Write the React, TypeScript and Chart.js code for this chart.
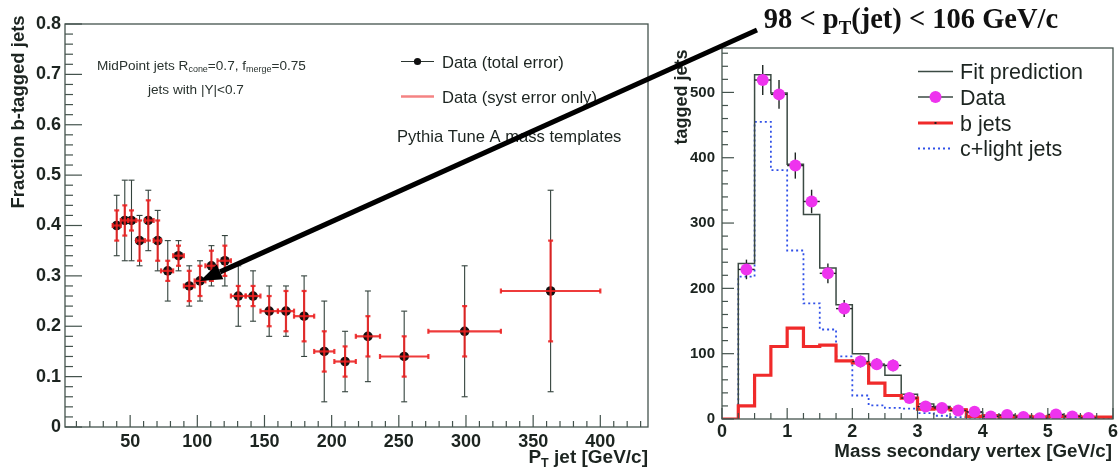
import React, { useEffect, useRef } from 'react';
import { Chart, registerables } from 'chart.js';
Chart.register(...registerables);

// ---------- Left panel: fraction of b-tagged jets vs pT ----------
const ptCenters = [40, 46, 51, 57, 63.5, 70.5, 78, 86, 94, 102, 110.5, 120.5, 130.5, 141.5, 153.5, 166, 179.5, 194.5, 210, 227, 254, 299, 363];
const ptLow = [37, 43, 48.5, 54.5, 61, 67.5, 73, 82, 90, 98, 106, 115, 125, 136, 147, 160, 172, 187, 202, 218, 236, 272, 326];
const ptHigh = [43, 48.5, 54.5, 61, 67.5, 73, 82, 90, 98, 106, 115, 125, 136, 147, 160, 172, 187, 202, 218, 236, 272, 326, 400];
const fraction = [0.40, 0.41, 0.41, 0.37, 0.41, 0.37, 0.31, 0.34, 0.28, 0.29, 0.32, 0.33, 0.26, 0.26, 0.23, 0.23, 0.22, 0.15, 0.13, 0.18, 0.14, 0.19, 0.27];
const totalHigh = [0.46, 0.49, 0.49, 0.42, 0.47, 0.43, 0.37, 0.37, 0.32, 0.33, 0.36, 0.38, 0.32, 0.31, 0.28, 0.28, 0.30, 0.25, 0.19, 0.27, 0.23, 0.32, 0.47];
const totalLow = [0.34, 0.33, 0.33, 0.32, 0.35, 0.31, 0.25, 0.31, 0.24, 0.25, 0.28, 0.28, 0.20, 0.21, 0.18, 0.18, 0.14, 0.05, 0.07, 0.09, 0.05, 0.06, 0.07];
const systHigh = [0.43, 0.44, 0.43, 0.41, 0.45, 0.41, 0.33, 0.36, 0.31, 0.32, 0.35, 0.36, 0.28, 0.28, 0.26, 0.27, 0.27, 0.19, 0.16, 0.22, 0.18, 0.24, 0.37];
const systLow = [0.37, 0.38, 0.39, 0.33, 0.37, 0.33, 0.29, 0.32, 0.25, 0.26, 0.29, 0.30, 0.24, 0.24, 0.20, 0.19, 0.17, 0.11, 0.10, 0.14, 0.10, 0.14, 0.17];
const leftXTicks = [50, 100, 150, 200, 250, 300, 350, 400];
const leftYTicks = [0, 0.1, 0.2, 0.3, 0.4, 0.5, 0.6, 0.7, 0.8];
const leftYTickLabels = ['0', '0.1', '0.2', '0.3', '0.4', '0.5', '0.6', '0.7', '0.8'];

// ---------- Right panel: mass of secondary vertex ----------
const massEdges = [0, 0.25, 0.5, 0.75, 1, 1.25, 1.5, 1.75, 2, 2.25, 2.5, 2.75, 3, 3.25, 3.5, 3.75, 4, 4.25, 4.5, 4.75, 5, 5.25, 5.5, 5.75, 6];
const fitPrediction = [0, 238, 527, 499, 390, 313, 231, 175, 100, 82, 67, 38, 23, 19, 15, 10, 6, 5, 4, 4, 4, 3, 3, 3];
const bJets = [0, 20, 67, 111, 139, 111, 113, 89, 86, 55, 36, 32, 15, 16, 14, 4, 5, 3, 4, 3, 4, 4, 3, 3];
const cLightJets = [0, 218, 455, 381, 258, 177, 137, 96, 36, 21, 17, 16, 9, 5, 3, 2, 1, 1, 1, 1, 1, 1, 0, 0];
const dataCenters = [0.375, 0.625, 0.875, 1.125, 1.375, 1.625, 1.875, 2.125, 2.375, 2.625, 2.875, 3.125, 3.375, 3.625, 3.875, 4.125, 4.375, 4.625, 4.875, 5.125, 5.375, 5.625];
const dataValues = [229, 519, 497, 388, 333, 223, 169, 88, 84, 82, 32, 19, 17, 13, 11, 4, 6, 3, 1, 7, 4, 1.5];
const dataErrors = [15, 23, 22, 20, 18, 15, 13, 9, 9, 9, 6, 4, 4, 4, 3, 2, 2, 2, 1, 3, 2, 1];
const rightXTicks = [0, 1, 2, 3, 4, 5, 6];
const rightYTicks = [0, 100, 200, 300, 400, 500];

const SANS = '"Liberation Sans", Arial, Helvetica, sans-serif';
const SERIF = '"Liberation Serif", "Times New Roman", serif';
const AXIS = '#44534d';
const TXT = '#1c2420';

type Part = [string, boolean?];

function rich(ctx: CanvasRenderingContext2D, parts: Part[], x: number, y: number, align: string, size: number, weight: string, family: string) {
  const sub = size * 0.66;
  const widths = parts.map(([t, s]) => {
    ctx.font = `${weight} ${s ? sub : size}px ${family}`;
    return ctx.measureText(t).width;
  });
  const w = widths.reduce((a, b) => a + b, 0);
  let cx = align === 'right' ? x - w : align === 'center' ? x - w / 2 : x;
  ctx.textAlign = 'left';
  ctx.textBaseline = 'alphabetic';
  parts.forEach(([t, s], i) => {
    ctx.font = `${weight} ${s ? sub : size}px ${family}`;
    ctx.fillText(t, cx, s ? y + size * 0.22 : y);
    cx += widths[i];
  });
}

function seg(ctx: CanvasRenderingContext2D, x1: number, y1: number, x2: number, y2: number) {
  ctx.beginPath();
  ctx.moveTo(x1, y1);
  ctx.lineTo(x2, y2);
  ctx.stroke();
}

function drawFrameTicks(chart: any, xMajors: number[], xMinorStep: number, yMajors: number[], yMinorStep: number, lens: number[]) {
  const { ctx, chartArea: a, scales } = chart;
  const x = scales.x, y = scales.y;
  ctx.save();
  ctx.strokeStyle = AXIS;
  ctx.lineWidth = 1.3;
  ctx.strokeRect(a.left, a.top, a.right - a.left, a.bottom - a.top);
  ctx.lineWidth = 1.2;
  const [xMaj, xMin, yMaj, yMin] = lens;
  for (let v = Math.ceil(x.min / xMinorStep) * xMinorStep; v <= x.max + 1e-9; v += xMinorStep) {
    const px = x.getPixelForValue(v);
    const isMaj = xMajors.some((m) => Math.abs(m - v) < 1e-6);
    seg(ctx, px, a.bottom, px, a.bottom - (isMaj ? xMaj : xMin));
  }
  for (let v = 0; v <= y.max + 1e-9; v += yMinorStep) {
    const py = y.getPixelForValue(v);
    const isMaj = yMajors.some((m) => Math.abs(m - v) < 1e-6);
    seg(ctx, a.left, py, a.left + (isMaj ? yMaj : yMin), py);
  }
  ctx.restore();
}

const leftPlugin = {
  id: 'leftDecor',
  beforeDatasetsDraw(chart: any) {
    const { ctx, scales } = chart;
    const x = scales.x, y = scales.y;
    ctx.save();
    ctx.strokeStyle = '#33423c';
    ctx.lineWidth = 1.1;
    ptCenters.forEach((c, i) => {
      const px = x.getPixelForValue(c);
      const hi = y.getPixelForValue(totalHigh[i]);
      const lo = y.getPixelForValue(totalLow[i]);
      seg(ctx, px, hi, px, lo);
      seg(ctx, px - 3, hi, px + 3, hi);
      seg(ctx, px - 3, lo, px + 3, lo);
    });
    ctx.restore();
  },
  afterDatasetsDraw(chart: any) {
    const { ctx, scales } = chart;
    const x = scales.x, y = scales.y;
    ctx.save();
    ctx.strokeStyle = 'rgba(236,32,32,0.88)';
    ctx.lineWidth = 2.2;
    ptCenters.forEach((c, i) => {
      const px = x.getPixelForValue(c);
      const py = y.getPixelForValue(fraction[i]);
      const hi = y.getPixelForValue(systHigh[i]);
      const lo = y.getPixelForValue(systLow[i]);
      const xl = x.getPixelForValue(ptLow[i]);
      const xh = x.getPixelForValue(ptHigh[i]);
      seg(ctx, px, hi, px, lo);
      seg(ctx, px - 2.5, hi, px + 2.5, hi);
      seg(ctx, px - 2.5, lo, px + 2.5, lo);
      seg(ctx, xl, py, xh, py);
      seg(ctx, xl, py - 2.5, xl, py + 2.5);
      seg(ctx, xh, py - 2.5, xh, py + 2.5);
    });
    ctx.restore();
  },
  afterDraw(chart: any) {
    const { ctx, chartArea: a, scales } = chart;
    const x = scales.x, y = scales.y;
    drawFrameTicks(chart, leftXTicks, 10, leftYTicks, 0.02, [12, 6, 17, 8]);
    ctx.save();
    ctx.fillStyle = TXT;
    // tick labels
    ctx.font = `bold 18px ${SANS}`;
    ctx.textAlign = 'center';
    ctx.textBaseline = 'alphabetic';
    leftXTicks.forEach((t) => ctx.fillText(String(t), x.getPixelForValue(t), a.bottom + 19.5));
    ctx.textAlign = 'right';
    ctx.textBaseline = 'middle';
    leftYTicks.forEach((t, i) => ctx.fillText(leftYTickLabels[i], a.left - 4, y.getPixelForValue(t)));
    // axis titles
    rich(ctx, [['P'], ['T', true], [' jet [GeV/c]']], a.right, a.bottom + 36, 'right', 19, 'bold', SANS);
    ctx.save();
    ctx.translate(19, 112);
    ctx.rotate(-Math.PI / 2);
    ctx.font = `bold 18.5px ${SANS}`;
    ctx.textAlign = 'center';
    ctx.textBaseline = 'middle';
    ctx.fillText('Fraction b-tagged jets', 0, 0);
    ctx.restore();
    // annotations
    ctx.fillStyle = '#2a332f';
    rich(ctx, [['MidPoint jets R'], ['cone', true], ['=0.7, f'], ['merge', true], ['=0.75']], 97, 69.5, 'left', 13.6, 'normal', SANS);
    rich(ctx, [['jets with |Y|<0.7']], 148, 93.5, 'left', 13.6, 'normal', SANS);
    // legend
    ctx.fillStyle = TXT;
    rich(ctx, [['Data (total error)']], 442, 67.5, 'left', 16.6, 'normal', SANS);
    rich(ctx, [['Data (syst error only)']], 442, 102.5, 'left', 16.6, 'normal', SANS);
    rich(ctx, [['Pythia Tune A mass templates']], 397, 142, 'left', 16.6, 'normal', SANS);
    ctx.strokeStyle = '#2b3530';
    ctx.lineWidth = 1.2;
    seg(ctx, 401, 61.5, 434, 61.5);
    ctx.beginPath();
    ctx.arc(417.5, 61.5, 3.6, 0, Math.PI * 2);
    ctx.fillStyle = '#111';
    ctx.fill();
    ctx.strokeStyle = 'rgba(240,90,90,0.75)';
    ctx.lineWidth = 2.5;
    seg(ctx, 401, 96.5, 434, 96.5);
    // arrow from the zoom title to the 98-106 GeV/c bin
    const tipX = x.getPixelForValue(ptCenters[9]);
    const tipY = y.getPixelForValue(fraction[9]);
    const tailX = 757, tailY = 30;
    const ang = Math.atan2(tipY - tailY, tipX - tailX);
    const headLen = 22, headHalf = 8;
    const bx = tipX - headLen * Math.cos(ang), by = tipY - headLen * Math.sin(ang);
    ctx.strokeStyle = '#000';
    ctx.lineWidth = 5;
    ctx.lineCap = 'butt';
    seg(ctx, tailX, tailY, bx, by);
    ctx.fillStyle = '#000';
    ctx.beginPath();
    ctx.moveTo(tipX, tipY);
    ctx.lineTo(bx + headHalf * Math.sin(ang), by - headHalf * Math.cos(ang));
    ctx.lineTo(bx - headHalf * Math.sin(ang), by + headHalf * Math.cos(ang));
    ctx.closePath();
    ctx.fill();
    ctx.restore();
  },
};

const rightPlugin = {
  id: 'rightDecor',
  afterDatasetDraw(chart: any, args: any) {
    if (args.index !== 1) return;
    const { ctx, scales } = chart;
    const x = scales.x, y = scales.y;
    ctx.save();
    ctx.strokeStyle = '#1e2622';
    ctx.lineWidth = 1.4;
    dataCenters.forEach((c, i) => {
      const px = x.getPixelForValue(c);
      const py = y.getPixelForValue(dataValues[i]);
      seg(ctx, px, y.getPixelForValue(dataValues[i] + dataErrors[i]), px, y.getPixelForValue(Math.max(0, dataValues[i] - dataErrors[i])));
      seg(ctx, x.getPixelForValue(c - 0.125), py, x.getPixelForValue(c + 0.125), py);
    });
    ctx.restore();
  },
  afterDraw(chart: any) {
    const { ctx, chartArea: a, scales } = chart;
    const x = scales.x, y = scales.y;
    drawFrameTicks(chart, rightXTicks, 0.25, rightYTicks, 20, [11, 6, 12, 6]);
    ctx.save();
    ctx.fillStyle = TXT;
    ctx.font = `bold 18px ${SANS}`;
    ctx.textAlign = 'center';
    ctx.textBaseline = 'alphabetic';
    rightXTicks.forEach((t) => ctx.fillText(String(t), x.getPixelForValue(t), a.bottom + 17.5));
    ctx.font = `bold 15px ${SANS}`;
    ctx.textAlign = 'right';
    ctx.textBaseline = 'middle';
    rightYTicks.forEach((t) => ctx.fillText(String(t), a.left - 7, y.getPixelForValue(t)));
    rich(ctx, [['Mass secondary vertex [GeV/c]']], a.right - 1, a.bottom + 37.5, 'right', 18.8, 'bold', SANS);
    ctx.save();
    ctx.translate(682, 97);
    ctx.rotate(-Math.PI / 2);
    ctx.font = `bold 18px ${SANS}`;
    ctx.textAlign = 'center';
    ctx.textBaseline = 'middle';
    ctx.fillText('tagged jets', 0, 0);
    ctx.restore();
    // title
    ctx.fillStyle = '#111';
    rich(ctx, [['98 < p'], ['T', true], ['(jet) < 106 GeV/c']], 911, 28, 'center', 28.5, 'bold', SERIF);
    // legend
    const lx1 = 918, lx2 = 953, tx = 960;
    const rows = [71.5, 97, 123, 148.5];
    ctx.fillStyle = TXT;
    ['Fit prediction', 'Data', 'b jets', 'c+light jets'].forEach((t, i) => rich(ctx, [[t]], tx, rows[i] + 7.5, 'left', 21.5, 'normal', SANS));
    ctx.strokeStyle = '#3b4a43';
    ctx.lineWidth = 1.5;
    seg(ctx, lx1, rows[0], lx2, rows[0]);
    seg(ctx, lx1, rows[1], lx2, rows[1]);
    ctx.fillStyle = '#ee33ee';
    ctx.beginPath();
    ctx.arc((lx1 + lx2) / 2, rows[1], 6, 0, Math.PI * 2);
    ctx.fill();
    ctx.strokeStyle = '#f02a2a';
    ctx.lineWidth = 3.2;
    seg(ctx, lx1, rows[2], lx2, rows[2]);
    ctx.fillStyle = '#222';
    ctx.fillRect((lx1 + lx2) / 2 - 1, rows[2] - 1, 2, 2);
    ctx.strokeStyle = '#3050e8';
    ctx.lineWidth = 1.8;
    ctx.setLineDash([2, 3]);
    seg(ctx, lx1, rows[3], lx2, rows[3]);
    ctx.setLineDash([]);
    ctx.restore();
  },
};

function stepPoints(values: number[]) {
  const pts = values.map((v, i) => ({ x: massEdges[i], y: v }));
  pts.push({ x: massEdges[massEdges.length - 1], y: values[values.length - 1] });
  return pts;
}

export default function App() {
  const leftRef = useRef<HTMLCanvasElement>(null);
  const rightRef = useRef<HTMLCanvasElement>(null);
  useEffect(() => {
    const left = new Chart(leftRef.current as HTMLCanvasElement, {
      type: 'scatter',
      data: {
        datasets: [
          {
            label: 'Data (total error)',
            data: ptCenters.map((c, i) => ({ x: c, y: fraction[i] })),
            pointRadius: 4.8,
            pointBackgroundColor: '#111',
            pointBorderColor: '#111',
            pointBorderWidth: 0,
            showLine: false,
          },
        ],
      },
      options: {
        responsive: false,
        animation: false,
        devicePixelRatio: 1,
        layout: { padding: { left: 65, right: 1119 - 648, top: 24, bottom: 472 - 427 } },
        scales: {
          x: { type: 'linear', min: 1.5, max: 435.5, display: false },
          y: { type: 'linear', min: 0, max: 0.8, display: false },
        },
        plugins: { legend: { display: false }, tooltip: { enabled: false } },
        events: [],
      },
      plugins: [leftPlugin],
    } as any);

    const right = new Chart(rightRef.current as HTMLCanvasElement, {
      type: 'line',
      data: {
        datasets: [
          {
            label: 'Data',
            data: dataCenters.map((c, i) => ({ x: c, y: dataValues[i] })),
            showLine: false,
            pointRadius: 6,
            pointBackgroundColor: '#ee33ee',
            pointBorderWidth: 0,
          },
          {
            label: 'b jets',
            data: stepPoints(bJets),
            stepped: 'before',
            borderColor: '#f02a2a',
            borderWidth: 3.2,
            pointRadius: 0,
            fill: false,
          },
          {
            label: 'Fit prediction',
            data: stepPoints(fitPrediction),
            stepped: 'before',
            borderColor: '#3b4a43',
            borderWidth: 1.5,
            pointRadius: 0,
            fill: false,
          },
          {
            label: 'c+light jets',
            data: stepPoints(cLightJets),
            stepped: 'before',
            borderColor: '#3050e8',
            borderWidth: 1.8,
            borderDash: [2, 3],
            pointRadius: 0,
            fill: false,
          },
        ],
      },
      options: {
        responsive: false,
        animation: false,
        devicePixelRatio: 1,
        layout: { padding: { left: 722, right: 4, top: 48, bottom: 53 } },
        scales: {
          x: { type: 'linear', min: 0, max: 6, display: false },
          y: { type: 'linear', min: 0, max: 568, display: false },
        },
        plugins: { legend: { display: false }, tooltip: { enabled: false } },
        events: [],
      },
      plugins: [rightPlugin],
    } as any);

    return () => {
      left.destroy();
      right.destroy();
    };
  }, []);

  return (
    <div style={{ position: 'absolute', left: 0, top: 0, width: 1119, height: 472, background: '#fff', overflow: 'hidden' }}>
      <canvas ref={rightRef} width={1119} height={472} style={{ position: 'absolute', left: 0, top: 0, zIndex: 1 }} />
      <canvas ref={leftRef} width={1119} height={472} style={{ position: 'absolute', left: 0, top: 0, zIndex: 2 }} />
    </div>
  );
}
